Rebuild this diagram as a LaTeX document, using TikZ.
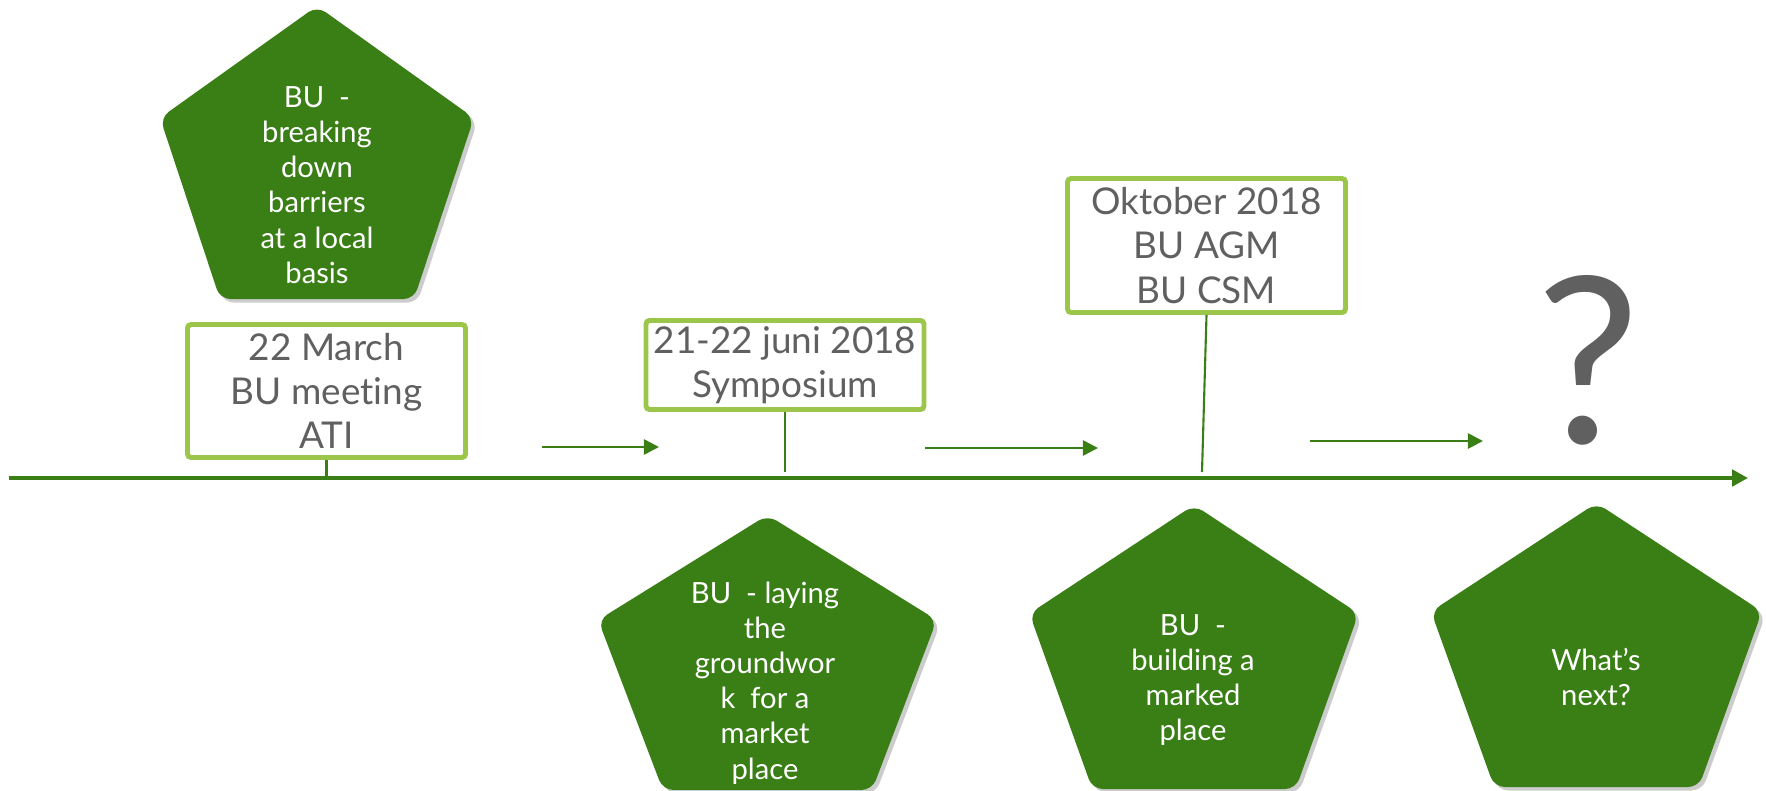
\documentclass[tikz,border=0pt]{standalone}
\usepackage{fontspec}
\setmainfont{Lato}[Ligatures={NoCommon}]
\usetikzlibrary{arrows.meta, positioning, shadows}
\definecolor{leafgreen}{RGB}{58,127,22}
\definecolor{boxgreen}{RGB}{155,198,74}
\definecolor{textgray}{RGB}{96,96,96}
\tikzstyle{event}=[draw=boxgreen, line width=1.4pt, fill=white, rounded corners=1pt, minimum width=2.78cm, inner sep=0pt, align=center, text=textgray, font=\fontsize{10.5}{12.6}\selectfont]
\tikzstyle{phase}=[text=white, align=center, font=\fontsize{8.3}{10}\selectfont]
\tikzstyle{stem}=[draw=leafgreen, line width=0.6pt]
\tikzstyle{timeline}=[draw=leafgreen, line width=1.15pt, -{Triangle[length=4.5pt,width=4.6pt]}]
\tikzstyle{onward}=[draw=leafgreen, line width=0.75pt, -{Triangle[length=4.3pt,width=4.3pt]}]
\tikzset{pics/pentagon/.style 2 args={code={
  \fill[leafgreen, rounded corners=3pt, drop shadow={shadow xshift=1pt, shadow yshift=-1pt, fill=black, opacity=0.2}]
    (90:#1 and #2) -- (162:#1 and #2) -- (234:#1 and #2) -- (306:#1 and #2) -- (18:#1 and #2) -- cycle;
}}}

\begin{document}
\begin{tikzpicture}
\useasboundingbox (0,0) rectangle (17.66,7.90);
% time axis
\coordinate (start) at (0.09,3.12);
\coordinate (end) at (17.48,3.12);
\draw[timeline] (start) -- (end);

% milestones above the axis
\node[event, minimum height=1.33cm] (march) at (3.265,3.99) {22 March\\BU meeting\\ATI};
\node[event, minimum height=0.89cm] (juni) at (7.85,4.25) {21-22 juni 2018\\Symposium};
\node[event, minimum height=1.34cm] (oktober) at (12.065,5.445) {Oktober 2018\\BU AGM\\BU CSM};
\node[text=textgray, font=\fontsize{66}{66}\selectfont, inner sep=0pt] (unknown) at (15.88,4.30) {?};

\coordinate (juni foot) at (7.85,3.18);
\coordinate (oktober foot) at (12.02,3.18);
\draw[stem] (march.south) -- (march.south |- start);
\draw[stem] (juni.south) -- (juni foot);
\draw[stem] (oktober.south) -- (oktober foot);

% arrows between the milestones
\coordinate (go1) at (5.42,3.43);  \coordinate (to1) at (6.59,3.43);
\coordinate (go2) at (9.25,3.42);  \coordinate (to2) at (10.98,3.42);
\coordinate (go3) at (13.10,3.49); \coordinate (to3) at (14.83,3.49);
\draw[onward] (go1) -- (to1);
\draw[onward] (go2) -- (to2);
\draw[onward] (go3) -- (to3);

% phases
\pic at (3.17,6.22) {pentagon={1.65}{1.62}};
\pic at (7.675,1.23) {pentagon={1.78}{1.52}};
\pic at (11.94,1.28) {pentagon={1.73}{1.57}};
\pic at (15.965,1.30) {pentagon={1.74}{1.57}};
\node[phase] (breaking) at (3.17,6.05) {BU~~-\\breaking\\down\\barriers\\at a local\\basis};
\node[phase] (laying) at (7.65,1.07) {BU~~- laying\\the\\groundwor\\k~~for a\\market\\place};
\node[phase] (building) at (11.93,1.10) {BU~~-\\building a\\marked\\place};
\node[phase] (whatsnext) at (15.96,1.13) {What’s\\next?};
\end{tikzpicture}
\end{document}
